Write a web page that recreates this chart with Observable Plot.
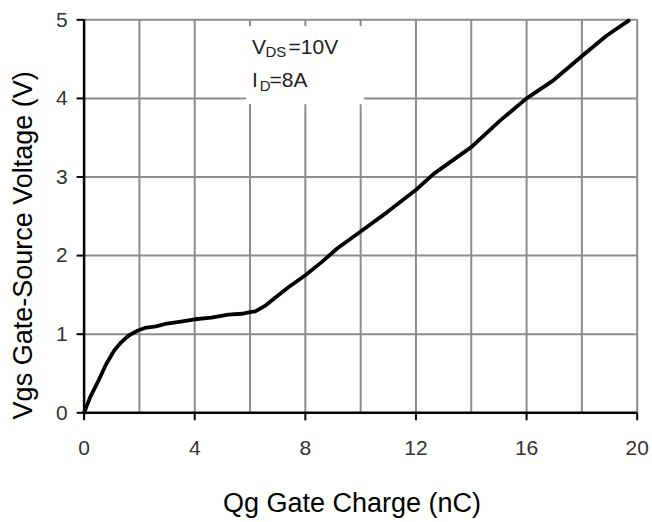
<!DOCTYPE html>
<html>
<head>
<meta charset="utf-8">
<script src="https://cdn.jsdelivr.net/npm/d3@7"></script>
<script src="https://cdn.jsdelivr.net/npm/@observablehq/plot@0.6"></script>
<style>
  html, body { margin: 0; padding: 0; background: #fff; }
</style>
</head>
<body>
<div id="chart"></div>
<script>
// Gate charge curve
const qg  = [0, 0.22, 0.52, 0.8, 1.1, 1.35, 1.6, 1.9, 2.2, 2.6, 2.93, 3.5, 4.0, 4.6, 5.22, 5.7, 6.0, 6.19, 6.54, 6.86, 7.4, 8.0, 8.6, 9.15, 10.05, 10.95, 11.98, 12.64, 14.0, 15.05, 16.0, 16.97, 17.94, 18.9, 19.69];
const vgs = [0, 0.2, 0.41, 0.62, 0.8, 0.9, 0.98, 1.04, 1.08, 1.1, 1.13, 1.16, 1.19, 1.21, 1.25, 1.26, 1.28, 1.29, 1.36, 1.45, 1.6, 1.75, 1.92, 2.09, 2.32, 2.55, 2.83, 3.04, 3.38, 3.72, 4.0, 4.23, 4.52, 4.8, 4.99];

const xTicks = [0, 4, 8, 12, 16, 20];
const yTicks = [0, 1, 2, 3, 4, 5];
const xGrid  = [2, 4, 6, 8, 10, 12, 14, 16, 18, 20];
const yGrid  = [1, 2, 3, 4, 5];

const xTitle = "Qg Gate Charge (nC)";
const yTitle = "Vgs Gate-Source Voltage (V)";

// condition note (text pieces) and the white box behind it (data units)
const noteLine1 = ["V", "DS", "=10V"];
const noteLine2 = ["I", "D", "=8A"];
const noteBox = [{x1: 5.87, x2: 10.13, y1: 3.92, y2: 4.915}];
const noteAnchor = {x: 6, y: 5};

const data = qg.map((x, i) => ({x, y: vgs[i]}));

const gridStyle = {stroke: "#8c8c8c", strokeWidth: 2};
const font = "'Liberation Sans', Arial, Helvetica, sans-serif";

const note = (txt, dx, dy, size) => Plot.text([txt], {
  x: () => noteAnchor.x, y: () => noteAnchor.y, text: d => d,
  dx, dy, fontSize: size, textAnchor: "start", lineAnchor: "bottom", fill: "#222"
});

const chart = Plot.plot({
  width: 652,
  height: 522,
  marginLeft: 83.6,
  marginRight: 15.3,
  marginTop: 19.3,
  marginBottom: 109.7,
  x: {domain: [0, 20]},
  y: {domain: [0, 5]},
  style: {fontFamily: font, fontSize: "21px", background: "#fff", overflow: "visible"},
  marks: [
    Plot.ruleX(xGrid, {x: d => d, ...gridStyle}),
    Plot.ruleY(yGrid, {y: d => d, ...gridStyle}),
    Plot.rect(noteBox, {x1: "x1", x2: "x2", y1: "y1", y2: "y2", fill: "#fff"}),
    Plot.axisX({ticks: xTicks, tickFormat: d => String(d), tickSize: 8, tickPadding: 19.5, fontSize: 21,
                fill: "#333", stroke: "#000", strokeWidth: 2, label: null}),
    Plot.axisY({ticks: yTicks, tickFormat: d => String(d), tickSize: 7, tickPadding: 9.5, fontSize: 21,
                fill: "#333", stroke: "#000", strokeWidth: 2, label: null}),
    Plot.ruleX([0], {x: d => d, stroke: "#000", strokeWidth: 2.5}),
    Plot.ruleY([0], {y: d => d, stroke: "#000", strokeWidth: 2.5}),
    Plot.line(data, {x: "x", y: "y", stroke: "#000", strokeWidth: 3.8, strokeLinejoin: "round", strokeLinecap: "round"}),
    note(noteLine1[0], 2, 34, 21),
    note(noteLine1[1], 15.4, 37.4, 15),
    note(noteLine1[2], 38.5, 34, 21),
    note(noteLine2[0], 2, 67.4, 21),
    note(noteLine2[1], 9.8, 71.4, 15),
    note(noteLine2[2], 19.5, 67.4, 21),
    Plot.text([yTitle], {frameAnchor: "left", text: d => d, rotate: -90, dx: -60.6, dy: 29,
                         fontSize: 27, fill: "#000", textAnchor: "middle", lineAnchor: "middle"}),
    Plot.text([xTitle], {frameAnchor: "bottom", text: d => d, dx: -8.7, dy: 91,
                         fontSize: 27, fill: "#000", textAnchor: "middle", lineAnchor: "middle"})
  ]
});

document.getElementById("chart").appendChild(chart);
</script>
</body>
</html>
